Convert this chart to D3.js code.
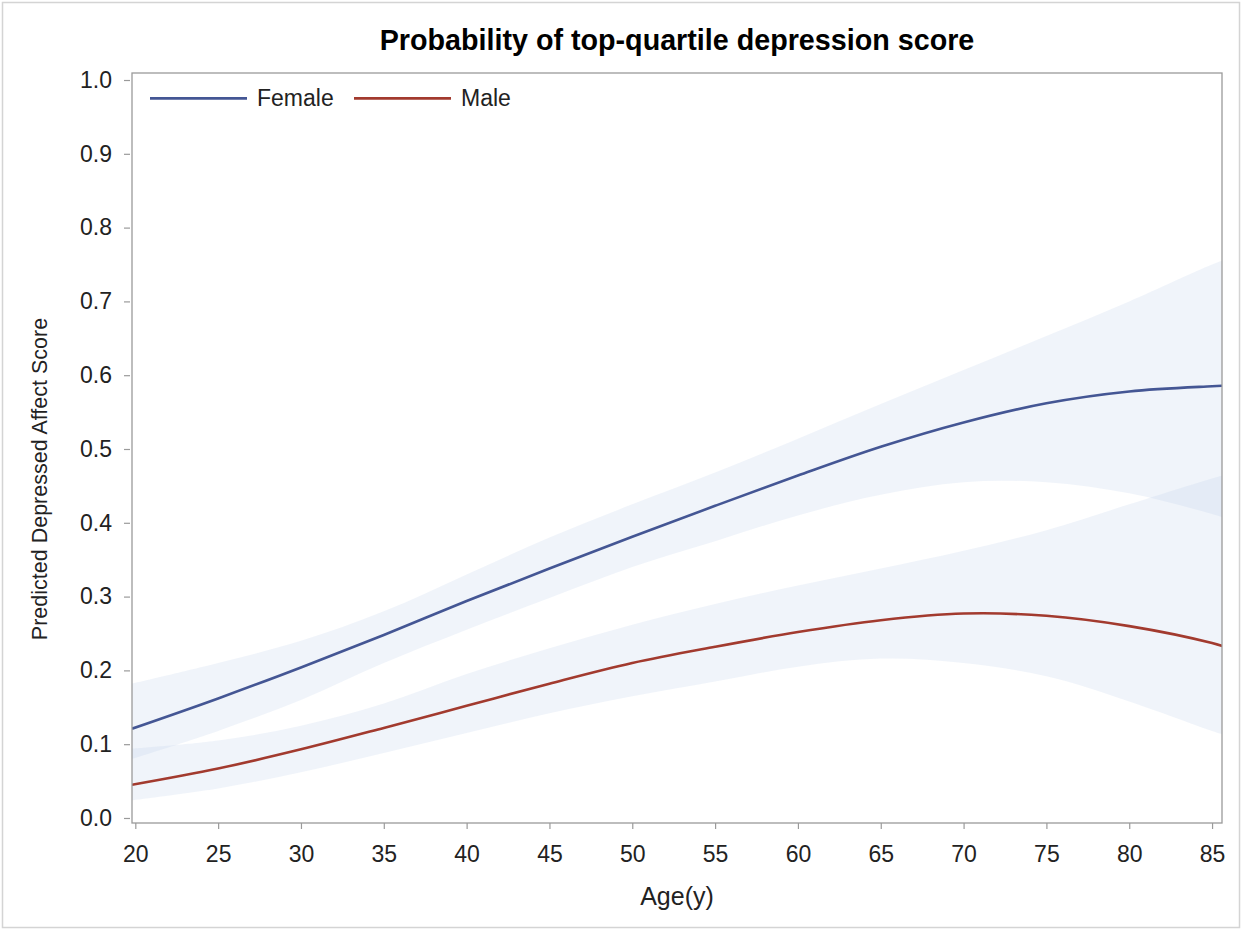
<!DOCTYPE html>
<html><head><meta charset="utf-8">
<script src="https://cdn.jsdelivr.net/npm/d3@7"></script>
<style>body{margin:0;background:#fff}svg{display:block}text{font-family:"Liberation Sans",Arial,sans-serif}</style>
</head><body><svg id="c" width="1247" height="936"></svg>
<script>
const ages        = [19.8, 25, 30, 35, 40, 45, 50, 55, 60, 65, 70, 75, 80, 85, 86];
const femaleFit   = [0.121,0.162,0.204,0.248,0.294,0.338,0.381,0.423,0.464,0.503,0.536,0.562,0.578,0.585,0.586];
const femaleUpper = [0.182,0.210,0.240,0.280,0.330,0.380,0.425,0.468,0.514,0.561,0.607,0.653,0.700,0.750,0.758];
const femaleLower = [0.080,0.118,0.160,0.210,0.255,0.298,0.340,0.375,0.410,0.438,0.455,0.455,0.440,0.412,0.405];
const maleFit     = [0.045,0.067,0.093,0.122,0.152,0.182,0.210,0.232,0.252,0.268,0.277,0.274,0.260,0.237,0.230];
const maleUpper   = [0.094,0.105,0.125,0.155,0.195,0.230,0.262,0.290,0.315,0.338,0.362,0.390,0.425,0.460,0.466];
const maleLower   = [0.024,0.040,0.062,0.088,0.115,0.142,0.165,0.185,0.205,0.216,0.210,0.192,0.158,0.118,0.111];
const xTicks = [20,25,30,35,40,45,50,55,60,65,70,75,80,85];
const yTicks = [0,0.1,0.2,0.3,0.4,0.5,0.6,0.7,0.8,0.9,1.0];
const seriesNames = ["Female","Male"];
const colors = ["#445694","#a23a2e"];
const title = "Probability of top-quartile depression score";
const xLabel = "Age(y)";
const yLabel = "Predicted Depressed Affect Score";

const svg = d3.select("#c");
const L=132,R=1222,T=73,B=823;
const x = d3.scaleLinear().domain([19.8,85.6]).range([L,R]);
const y = d3.scaleLinear().domain([-0.0068,1.0095]).range([B,T]);
const curve = d3.curveCatmullRom.alpha(0.5);

svg.append("rect").attr("x",2.5).attr("y",2.5).attr("width",1237).attr("height",925)
  .attr("fill","#fff").attr("stroke","#d4d4d4").attr("stroke-width",1.5);

svg.append("defs").append("clipPath").attr("id","cp").append("rect")
  .attr("x",L).attr("y",T).attr("width",R-L).attr("height",B-T);

const g = svg.append("g").attr("clip-path","url(#cp)");
const bands = [[femaleLower,femaleUpper],[maleLower,maleUpper]];
const fits = [femaleFit,maleFit];
const area = (lo,hi)=>d3.area().curve(curve)
  .x((d,i)=>x(ages[i])).y0((d,i)=>y(lo[i])).y1((d,i)=>y(hi[i]))(ages);
bands.forEach(([lo,hi])=>{
  g.append("path").attr("d",area(lo,hi)).attr("fill","#b9cbe6").attr("fill-opacity",0.22);
});
const line = vals=>d3.line().curve(curve).x((d,i)=>x(ages[i])).y((d,i)=>y(vals[i]))(ages);
fits.forEach((v,k)=>{
  g.append("path").attr("d",line(v)).attr("fill","none").attr("stroke",colors[k]).attr("stroke-width",2.6);
});

// frame
svg.append("rect").attr("x",L).attr("y",T).attr("width",R-L).attr("height",B-T)
  .attr("fill","none").attr("stroke","#9a9a9a").attr("stroke-width",1.3);

// axes
const xa = svg.append("g").attr("transform",`translate(0,${B})`)
  .call(d3.axisBottom(x).tickValues(xTicks).tickSize(6).tickPadding(19).tickFormat(d3.format("d")));
const ya = svg.append("g").attr("transform",`translate(${L},0)`)
  .call(d3.axisLeft(y).tickValues(yTicks).tickSize(8).tickPadding(12).tickFormat(d3.format(".1f")));
[xa,ya].forEach(a=>{
  a.select(".domain").remove();
  a.selectAll(".tick line").attr("stroke","#9a9a9a").attr("stroke-width",1.2);
  a.selectAll(".tick text").attr("fill","#222").style("font-size","23px");
});
ya.selectAll(".tick line").attr("x2",-8).attr("x1",-2);
xa.selectAll(".tick text").attr("dy","0.62em");

svg.append("text").attr("x",(L+R)/2).attr("y",50).attr("text-anchor","middle")
  .style("font-size","28.7px").style("font-weight","bold").attr("fill","#000").text(title);
svg.append("text").attr("x",(L+R)/2).attr("y",905).attr("text-anchor","middle")
  .style("font-size","25px").attr("fill","#222").text(xLabel);
svg.append("text").attr("transform","translate(47,479) rotate(-90)").attr("text-anchor","middle")
  .style("font-size","21.5px").attr("fill","#222").text(yLabel);

// legend
const legX = [150,354];
seriesNames.forEach((n,k)=>{
  svg.append("line").attr("x1",legX[k]).attr("x2",legX[k]+97).attr("y1",98.3).attr("y2",98.3)
    .attr("stroke",colors[k]).attr("stroke-width",2.8);
  svg.append("text").attr("x",legX[k]+107).attr("y",105.5).style("font-size","23px").attr("fill","#222").text(n);
});
</script></body></html>
